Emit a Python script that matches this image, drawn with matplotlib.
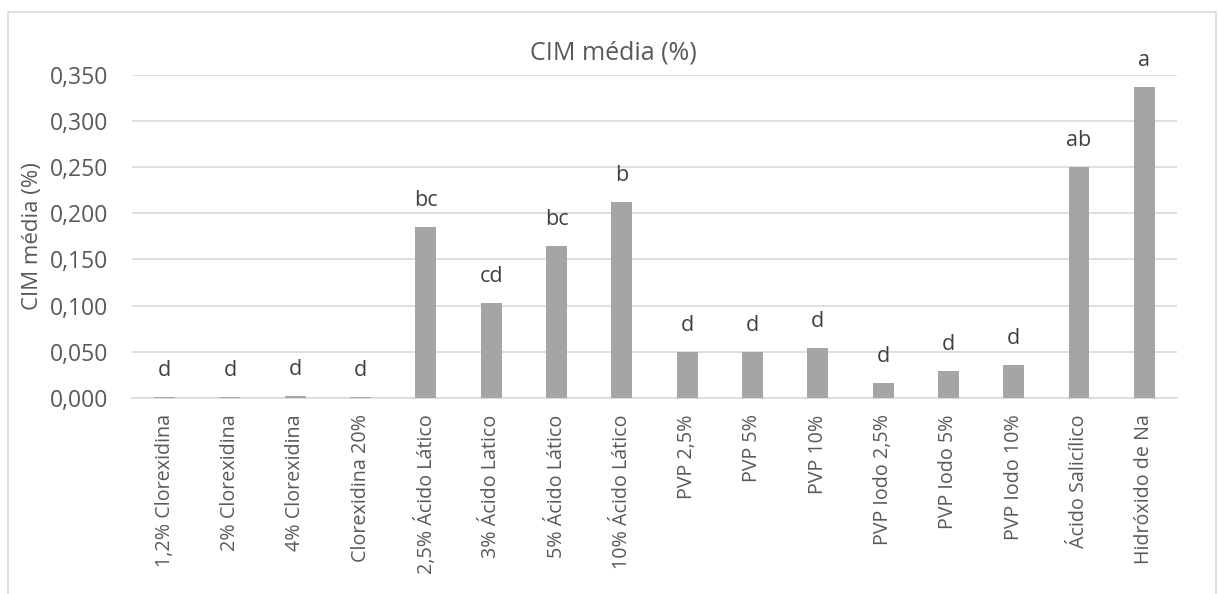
import matplotlib.pyplot as plt
import numpy as np
from matplotlib.patches import Rectangle
from matplotlib.ticker import FuncFormatter

plt.rcParams['font.family'] = ['Open Sans', 'DejaVu Sans']

categorias = ['1,2% Clorexidina', '2% Clorexidina', '4% Clorexidina', 'Clorexidina 20%',
              '2,5% Ácido Lático', '3% Ácido Latico', '5% Ácido Lático', '10% Ácido Lático',
              'PVP 2,5%', 'PVP 5%', 'PVP 10%', 'PVP Iodo 2,5%', 'PVP Iodo 5%',
              'PVP Iodo 10%', 'Ácido Salicílico', 'Hidróxido de Na']
cim = [0.0006, 0.001, 0.002, 0.001, 0.185, 0.103, 0.165, 0.212,
       0.050, 0.050, 0.054, 0.016, 0.029, 0.036, 0.250, 0.337]
letras = ['d', 'd', 'd', 'd', 'bc', 'cd', 'bc', 'b',
          'd', 'd', 'd', 'd', 'd', 'd', 'ab', 'a']

cinza = '#595959'

fig = plt.figure(figsize=(12.19, 5.94), dpi=100)
ax = fig.add_axes([132/1219, 1 - 397.7/594, (1177-132)/1219, (397.7-75)/594])

x = np.arange(len(categorias))
ax.bar(x, cim, width=0.32, color='#a5a5a5', zorder=3)

# letras de significancia acima das barras
for xi, v, l in zip(x, cim, letras):
    ax.annotate(l, (xi, v), xytext=(0, 19), textcoords='offset points',
                ha='center', va='center', fontsize=15.5, color='#404040',
                annotation_clip=False)

ax.set_xlim(-0.5, len(categorias) - 0.5)
ax.set_ylim(0, 0.35)
ax.set_yticks(np.arange(0, 0.351, 0.05))
ax.yaxis.set_major_formatter(FuncFormatter(lambda v, p: f'{v:.3f}'.replace('.', ',')))
ax.set_xticks(x)
ax.set_xticklabels(categorias, rotation=90, fontsize=14.2, color=cinza)
ax.tick_params(axis='y', labelsize=16.5, colors=cinza, length=0, pad=17)
ax.tick_params(axis='x', length=0, pad=12)
ax.grid(axis='y', color='#d9d9d9', linewidth=1.2, zorder=0)
for s in ['top', 'right', 'left']:
    ax.spines[s].set_visible(False)
ax.spines['bottom'].set_color('#d9d9d9')
ax.spines['bottom'].set_linewidth(1.2)

ax.set_ylabel('CIM média (%)', fontsize=16, color=cinza)
ax.yaxis.set_label_coords(-0.085, 0.5)
fig.text(613/1219, 1 - 53/594, 'CIM média (%)', ha='center', va='center',
         fontsize=18, color=cinza)

fig.patches.append(Rectangle((8/1219, -0.1), (1216-8)/1219, 1.1 - 12/594,
                             transform=fig.transFigure, fill=False,
                             edgecolor='#d9d9d9', linewidth=1.2))

fig.savefig('out.png', dpi=100)
